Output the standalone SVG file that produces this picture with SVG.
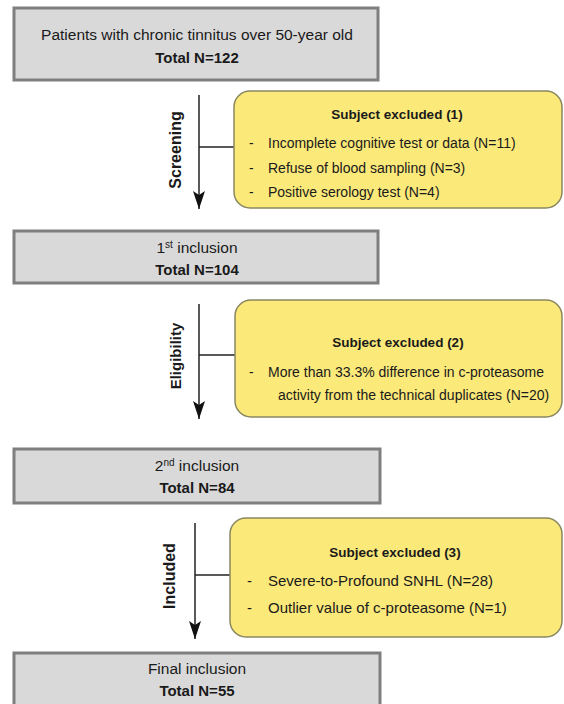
<svg xmlns="http://www.w3.org/2000/svg" width="564" height="704" viewBox="0 0 564 704">
<style>
.box{fill:#d9d9d9;stroke:#7f7f7f;stroke-width:3}
.ybox{fill:#fbe97a;stroke:#8a8760;stroke-width:1.5}
.t{font-family:"Liberation Sans",Arial,sans-serif;fill:#1a1a1a}
.c{text-anchor:middle}
.b{font-weight:bold}
.ln{stroke:#222;stroke-width:1.5;fill:none}
</style>
<defs>
<marker id="ah" markerWidth="18" markerHeight="12" refX="18" refY="6" orient="auto" markerUnits="userSpaceOnUse" viewBox="0 0 18 12">
<path d="M0,0 L18,6 L0,12 L4,6 Z" fill="#111"/>
</marker>
</defs>
<g id="connectors">
<line class="ln" x1="199" y1="95" x2="199" y2="209" marker-end="url(#ah)"/>
<line class="ln" x1="199" y1="147" x2="234" y2="147"/>
<line class="ln" x1="199" y1="304" x2="199" y2="419" marker-end="url(#ah)"/>
<line class="ln" x1="199" y1="355" x2="235" y2="355"/>
<line class="ln" x1="195" y1="523" x2="195" y2="639" marker-end="url(#ah)"/>
<line class="ln" x1="195" y1="575" x2="230" y2="575"/>
</g>
<g id="box-total122">
<rect class="box" x="14" y="8" width="364" height="72"/>
<text class="t c" x="197" y="40" font-size="15.5">Patients with chronic tinnitus over 50-year old</text>
<text class="t c b" x="197" y="63" font-size="15">Total N=122</text>
</g>
<g id="label-screening">
<text class="t c b" font-size="16" transform="translate(181,150) rotate(-90)">Screening</text>
</g>
<g id="excluded-1">
<rect class="ybox" x="234" y="91" width="328" height="117" rx="16"/>
<text class="t c b" x="397" y="119" font-size="13.5">Subject excluded (1)</text>
<text class="t" x="249" y="148" font-size="14">-</text>
<text class="t" x="268" y="148" font-size="14">Incomplete cognitive test or data (N=11)</text>
<text class="t" x="249" y="173" font-size="14">-</text>
<text class="t" x="268" y="173" font-size="14">Refuse of blood sampling (N=3)</text>
<text class="t" x="249" y="197" font-size="14">-</text>
<text class="t" x="268" y="197" font-size="14">Positive serology test (N=4)</text>
</g>
<g id="box-total104">
<rect class="box" x="14" y="231" width="364" height="52"/>
<text class="t c" x="197" y="253" font-size="15.5">1<tspan font-size="10" dy="-5">st</tspan><tspan dy="5"> inclusion</tspan></text>
<text class="t c b" x="197" y="275" font-size="15">Total N=104</text>
</g>
<g id="label-eligibility">
<text class="t c b" font-size="15" transform="translate(181,356) rotate(-90)">Eligibility</text>
</g>
<g id="excluded-2">
<rect class="ybox" x="235" y="300" width="327" height="117" rx="16"/>
<text class="t c b" x="398" y="347" font-size="13.5">Subject excluded (2)</text>
<text class="t" x="249" y="377" font-size="14">-</text>
<text class="t" x="268" y="377" font-size="14">More than 33.3% difference in c-proteasome</text>
<text class="t" x="278" y="400" font-size="14">activity from the technical duplicates (N=20)</text>
</g>
<g id="box-total84">
<rect class="box" x="14" y="449" width="366" height="54"/>
<text class="t c" x="197" y="471" font-size="15.5">2<tspan font-size="10" dy="-5">nd</tspan><tspan dy="5"> inclusion</tspan></text>
<text class="t c b" x="197" y="493" font-size="15">Total N=84</text>
</g>
<g id="label-included">
<text class="t c b" font-size="16" transform="translate(175,576) rotate(-90)">Included</text>
</g>
<g id="excluded-3">
<rect class="ybox" x="230" y="518" width="332" height="119" rx="16"/>
<text class="t c b" x="395" y="557" font-size="13.5">Subject excluded (3)</text>
<text class="t" x="247" y="586" font-size="15">-</text>
<text class="t" x="268" y="586" font-size="15">Severe-to-Profound SNHL (N=28)</text>
<text class="t" x="247" y="613" font-size="15">-</text>
<text class="t" x="268" y="613" font-size="15">Outlier value of c-proteasome (N=1)</text>
</g>
<g id="box-total55">
<rect class="box" x="14" y="653" width="366" height="60"/>
<text class="t c" x="197" y="674" font-size="15.5">Final inclusion</text>
<text class="t c b" x="197" y="696" font-size="15">Total N=55</text>
</g>
</svg>
